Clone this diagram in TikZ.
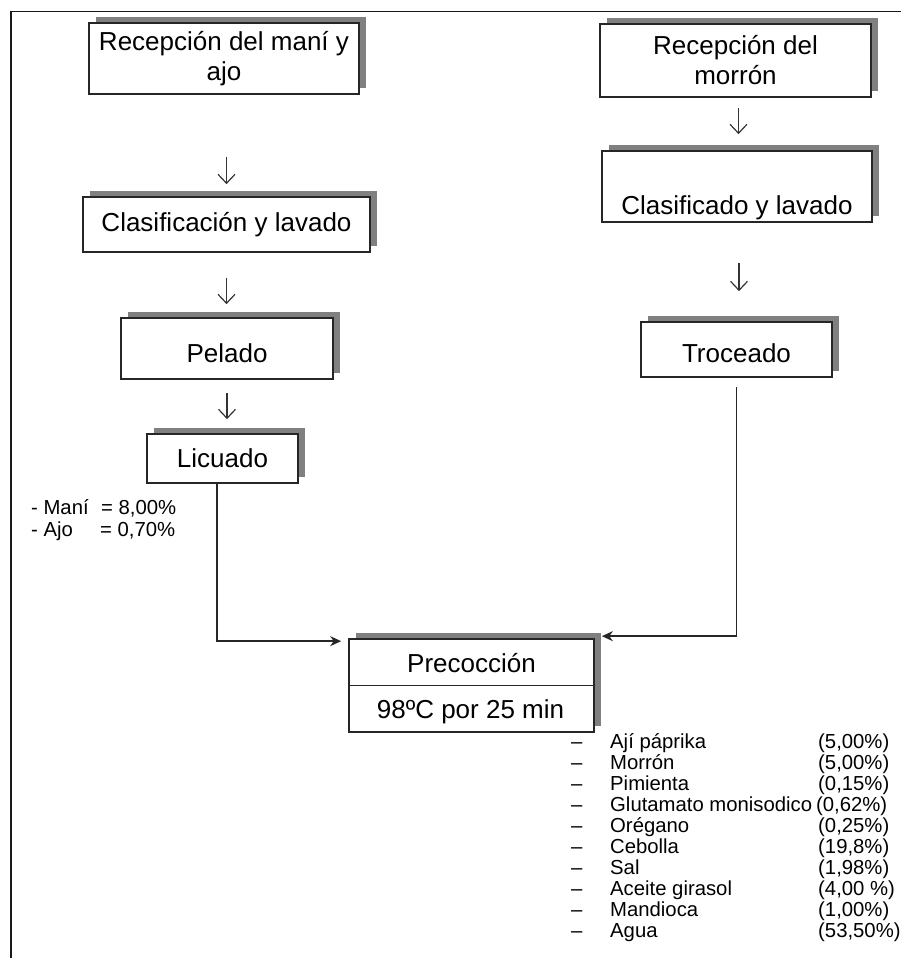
\documentclass[tikz,border=0pt]{standalone}
\usepackage{fontspec}
\setmainfont{Liberation Sans}
\usetikzlibrary{arrows.meta,shadows,calc}
\begin{document}
\begin{tikzpicture}[x=1pt,y=-1pt,
  box/.style={draw=black!85, line width=1.7pt, fill=white, inner sep=0pt, align=center,
     font=\fontsize{26}{30}\selectfont,
     drop shadow={opacity=1, shadow xshift=7pt, shadow yshift=6pt, fill=black!50}},
  boxtext/.style={font=\fontsize{26}{30}\selectfont, inner sep=0pt, anchor=base},
  dnarr/.style={draw=black!80, line width=1.2pt, -{Straight Barb[length=9pt,width=17pt]}},
  conn/.style={draw=black!85, line width=1.6pt, -{Stealth[length=11pt,width=10pt]}},
  small/.style={font=\fontsize{20.3}{24}\selectfont, inner sep=0pt, anchor=base west},
]
\useasboundingbox (0,0) rectangle (901,958);
\draw[line width=1.7pt, black!90] (11,958) -- (11,11.5) -- (901,11.5);

% left column
\node[box, minimum width=270pt, minimum height=71pt] (b1) at (224,58.5) {Recepción del maní y\\ajo};
\node[box, minimum width=287pt, minimum height=55pt] (b2) at (226.5,224.5) {Clasificación y lavado};
\node[box, minimum width=212pt, minimum height=61pt, text height=27pt, text depth=0pt] (b3) at (227,348.5) {Pelado};
\node[box, minimum width=151pt, minimum height=49pt] (b4) at (222.5,458.5) {Licuado};

% right column
\node[box, minimum width=271pt, minimum height=73pt] (r1) at (735.5,60.5) {Recepción del\\morrón};
\node[box, minimum width=270pt, minimum height=71pt, text height=55pt, text depth=0pt] (r2) at (737,186.5) {Clasificado y lavado};
\node[box, minimum width=191pt, minimum height=55pt, text height=25pt, text depth=0pt] (r3) at (736.5,349.5) {Troceado};

% precoccion
\node[box, minimum width=245pt, minimum height=93pt] (pc) at (471.5,685.5) {};
\draw[black!85, line width=1.7pt] (pc.west) -- (pc.east);
\node[boxtext] (pct) at (471.5,672) {Precocción};
\node[boxtext] (pcb) at (470.5,718) {98ºC por 25 min};

% small down arrows
\draw[dnarr, shorten <=62pt, shorten >=12pt] (b2.north |- b1.south) -- (b2.north);
\draw[dnarr, shorten <=25pt, shorten >=13pt] (b2.south) -- (b2.south |- b3.north);
\draw[dnarr, shorten <=13pt, shorten >=14pt] (b3.south) -- (b3.south |- b4.north);
\draw[dnarr, shorten <=10pt, shorten >=16pt] ([xshift=3pt]r1.south) -- ([xshift=3pt]r1.south |- r2.north);
\draw[dnarr, shorten <=40pt, shorten >=30pt] ([xshift=2pt]r2.south) -- ([xshift=2pt]r2.south |- r3.north);

% connectors into precoccion
\draw[conn] ([xshift=-5.5pt]b4.south) |- ([xshift=-7pt,yshift=-3pt]pc.north west);
\draw[conn] ([yshift=-9pt]r3.south) |- ([xshift=7pt,yshift=2pt]pc.north east);

% percentages of mani and ajo
\node[small] (mani) at (31,514) {\makebox[70pt][l]{- Maní}= 8,00\%};
\node[small] (ajo) at (31,536) {\makebox[69pt][l]{- Ajo}= 0,70\%};

% ingredient list
\node[small] (i1) at (571,748)   {\makebox[39pt][l]{–}\makebox[208pt][l]{Ají páprika}(5,00\%)};
\node[small] (i2) at (571,769.1) {\makebox[39pt][l]{–}\makebox[208pt][l]{Morrón}(5,00\%)};
\node[small] (i3) at (571,790.2) {\makebox[39pt][l]{–}\makebox[208pt][l]{Pimienta}(0,15\%)};
\node[small] (i4) at (571,811.3) {\makebox[39pt][l]{–}\makebox[206pt][l]{Glutamato monisodico}(0,62\%)};
\node[small] (i5) at (571,832.4) {\makebox[39pt][l]{–}\makebox[208pt][l]{Orégano}(0,25\%)};
\node[small] (i6) at (571,853.5) {\makebox[39pt][l]{–}\makebox[208pt][l]{Cebolla}(19,8\%)};
\node[small] (i7) at (571,874.6) {\makebox[39pt][l]{–}\makebox[208pt][l]{Sal}(1,98\%)};
\node[small] (i8) at (571,895.7) {\makebox[39pt][l]{–}\makebox[208pt][l]{Aceite girasol}(4,00 \%)};
\node[small] (i9) at (571,916.8) {\makebox[39pt][l]{–}\makebox[208pt][l]{Mandioca}(1,00\%)};
\node[small] (i10) at (571,937.9) {\makebox[39pt][l]{–}\makebox[208pt][l]{Agua}(53,50\%)};
\end{tikzpicture}
\end{document}
